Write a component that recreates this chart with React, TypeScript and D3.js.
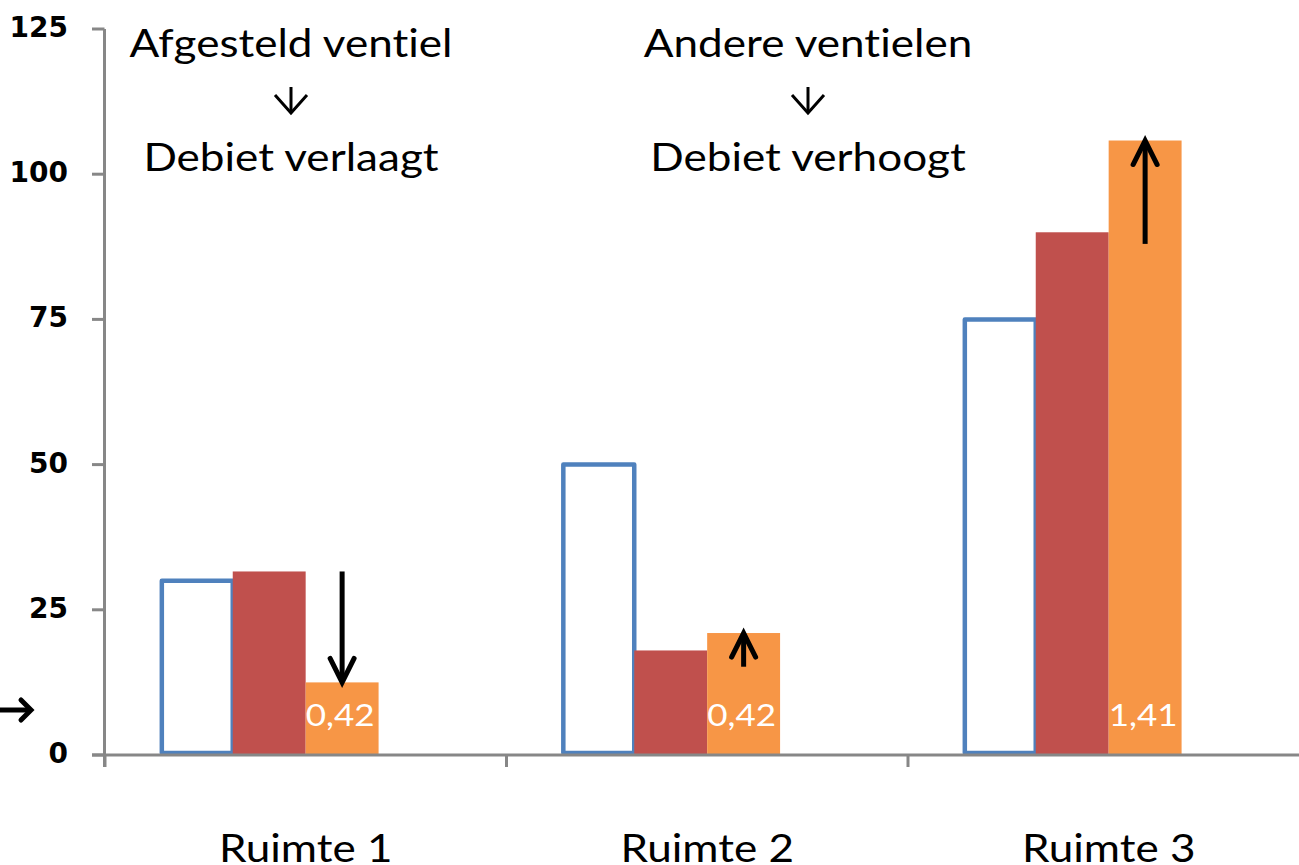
import React from 'react';
import * as d3 from 'd3';

const categories = ['Ruimte 1', 'Ruimte 2', 'Ruimte 3'];
const seriesNames = ['Ontwerp', 'Afgesteld', 'Gevolg'];
const seriesOutline = [true, false, false];
const designValues = [30, 50, 75];
const adjustedValues = [31.6, 18, 90];
const resultValues = [12.5, 21, 105.8];
const resultLabels = ['0,42', '0,42', '1,41'];
const yTicks = [0, 25, 50, 75, 100, 125];
// annotation arrows on the third series: from value -> to value
const arrowFrom = [31.6, 15.2, 88];
const arrowTo = [12.5, 21, 105.8];
const noteLines1 = ['Afgesteld ventiel', 'Andere ventielen'];
const noteLines2 = ['Debiet verlaagt', 'Debiet verhoogt'];
const noteX = [291, 808];

const W = 1299;
const H = 865;
const colors = ['#4F81BD', '#C0504D', '#F79646'];
const axisColor = '#878787';
const textFont = 'Lato, "Open Sans", sans-serif';
const SX = 1.13;

function WideText(props: { x: number; y: number; size: number; fill?: string; children: React.ReactNode }) {
  return (
    <text
      transform={`translate(${props.x},${props.y}) scale(${SX},1)`}
      textAnchor="middle"
      fontFamily={textFont}
      fontSize={props.size}
      fill={props.fill || '#000'}
      style={{ fontVariantLigatures: 'none', fontFeatureSettings: '"liga" 0, "clig" 0' }}
    >
      {props.children}
    </text>
  );
}

export default function App() {
  const x0 = d3.scaleBand<string>().domain(categories).range([105, 105 + 3 * 401.5]).paddingInner(0).paddingOuter(0);
  const x1 = d3
    .scaleBand<string>()
    .domain(seriesNames)
    .range([0, x0.bandwidth()])
    .paddingInner(0)
    .paddingOuter(1.253)
    .align(0.3);
  const y = d3.scaleLinear().domain([0, 125]).range([755, 29]);
  const seriesValues = [designValues, adjustedValues, resultValues];

  const arrowHead = (tx: number, ty: number, dir: number) =>
    `M${tx - 12},${ty - dir * 24} L${tx},${ty} L${tx + 12},${ty - dir * 24}`;

  return (
    <svg width={W} height={H} style={{ position: 'absolute', left: 0, top: 0, display: 'block', background: '#fff' }}>
      {/* bars */}
      {categories.map((c, ci) => (
        <g key={c}>
          {seriesNames.map((s, si) => {
            const v = seriesValues[si][ci];
            const bx = (x0(c) as number) + (x1(s) as number);
            const bw = x1.bandwidth();
            if (seriesOutline[si]) {
              return (
                <rect key={s} x={bx + 2} y={y(v)} width={bw - 2} height={y(0) - y(v) - 2} fill="#fff" stroke={colors[si]} strokeWidth={4.5} strokeLinejoin="round" />
              );
            }
            return <rect key={s} x={bx} y={y(v)} width={bw} height={y(0) - y(v)} fill={colors[si]} />;
          })}
          <WideText x={(x0(c) as number) + (x1(seriesNames[2]) as number) + x1.bandwidth() / 2 - 2} y={726} size={31} fill="#fff">
            {resultLabels[ci]}
          </WideText>
        </g>
      ))}

      {/* axes */}
      <line x1={104.5} x2={104.5} y1={y(125)} y2={767} stroke={axisColor} strokeWidth={3} />
      <line x1={92} x2={W} y1={y(0)} y2={y(0)} stroke={axisColor} strokeWidth={3} />
      {yTicks.map((t) => (
        <g key={t}>
          <line x1={92} x2={104.5} y1={y(t)} y2={y(t)} stroke={axisColor} strokeWidth={3} />
          <text x={68} y={y(t) + 8} textAnchor="end" fontFamily='"DejaVu Sans", Verdana, sans-serif' fontWeight="bold" fontSize={28} fill="#000">
            {t}
          </text>
        </g>
      ))}
      {categories.map((c) => (
        <line key={'t' + c} x1={x0(c) as number} x2={x0(c) as number} y1={y(0)} y2={767} stroke={axisColor} strokeWidth={3} />
      ))}
      {categories.map((c) => (
        <WideText key={'l' + c} x={(x0(c) as number) + x0.bandwidth() / 2} y={862} size={39}>
          {c}
        </WideText>
      ))}

      {/* arrows on bars */}
      {categories.map((c, ci) => {
        const ax = (x0(c) as number) + (x1(seriesNames[2]) as number) + x1.bandwidth() / 2;
        const dir = arrowTo[ci] < arrowFrom[ci] ? 1 : -1;
        return (
          <g key={'a' + c} stroke="#000" strokeWidth={5} fill="none">
            <line x1={ax} x2={ax} y1={y(arrowFrom[ci])} y2={y(arrowTo[ci]) - dir * 2} />
            <path d={arrowHead(ax, y(arrowTo[ci]), dir)} strokeLinejoin="miter" strokeLinecap="round" />
          </g>
        );
      })}
      {/* left arrow */}
      <g stroke="#000" strokeWidth={5} fill="none">
        <line x1={0} x2={30} y1={710} y2={710} />
        <path d="M21,700 L31,710 L21,720" strokeLinecap="round" />
      </g>

      {/* top notes */}
      {noteX.map((nx, i) => (
        <g key={noteLines1[i]}>
          <WideText x={nx} y={57} size={39}>{noteLines1[i]}</WideText>
          <g stroke="#000" strokeWidth={3} fill="none">
            <line x1={nx} x2={nx} y1={87} y2={112} />
            <path d={`M${nx - 16},${95} L${nx},${113} L${nx + 16},${95}`} />
          </g>
          <WideText x={nx} y={171} size={39}>{noteLines2[i]}</WideText>
        </g>
      ))}
    </svg>
  );
}
